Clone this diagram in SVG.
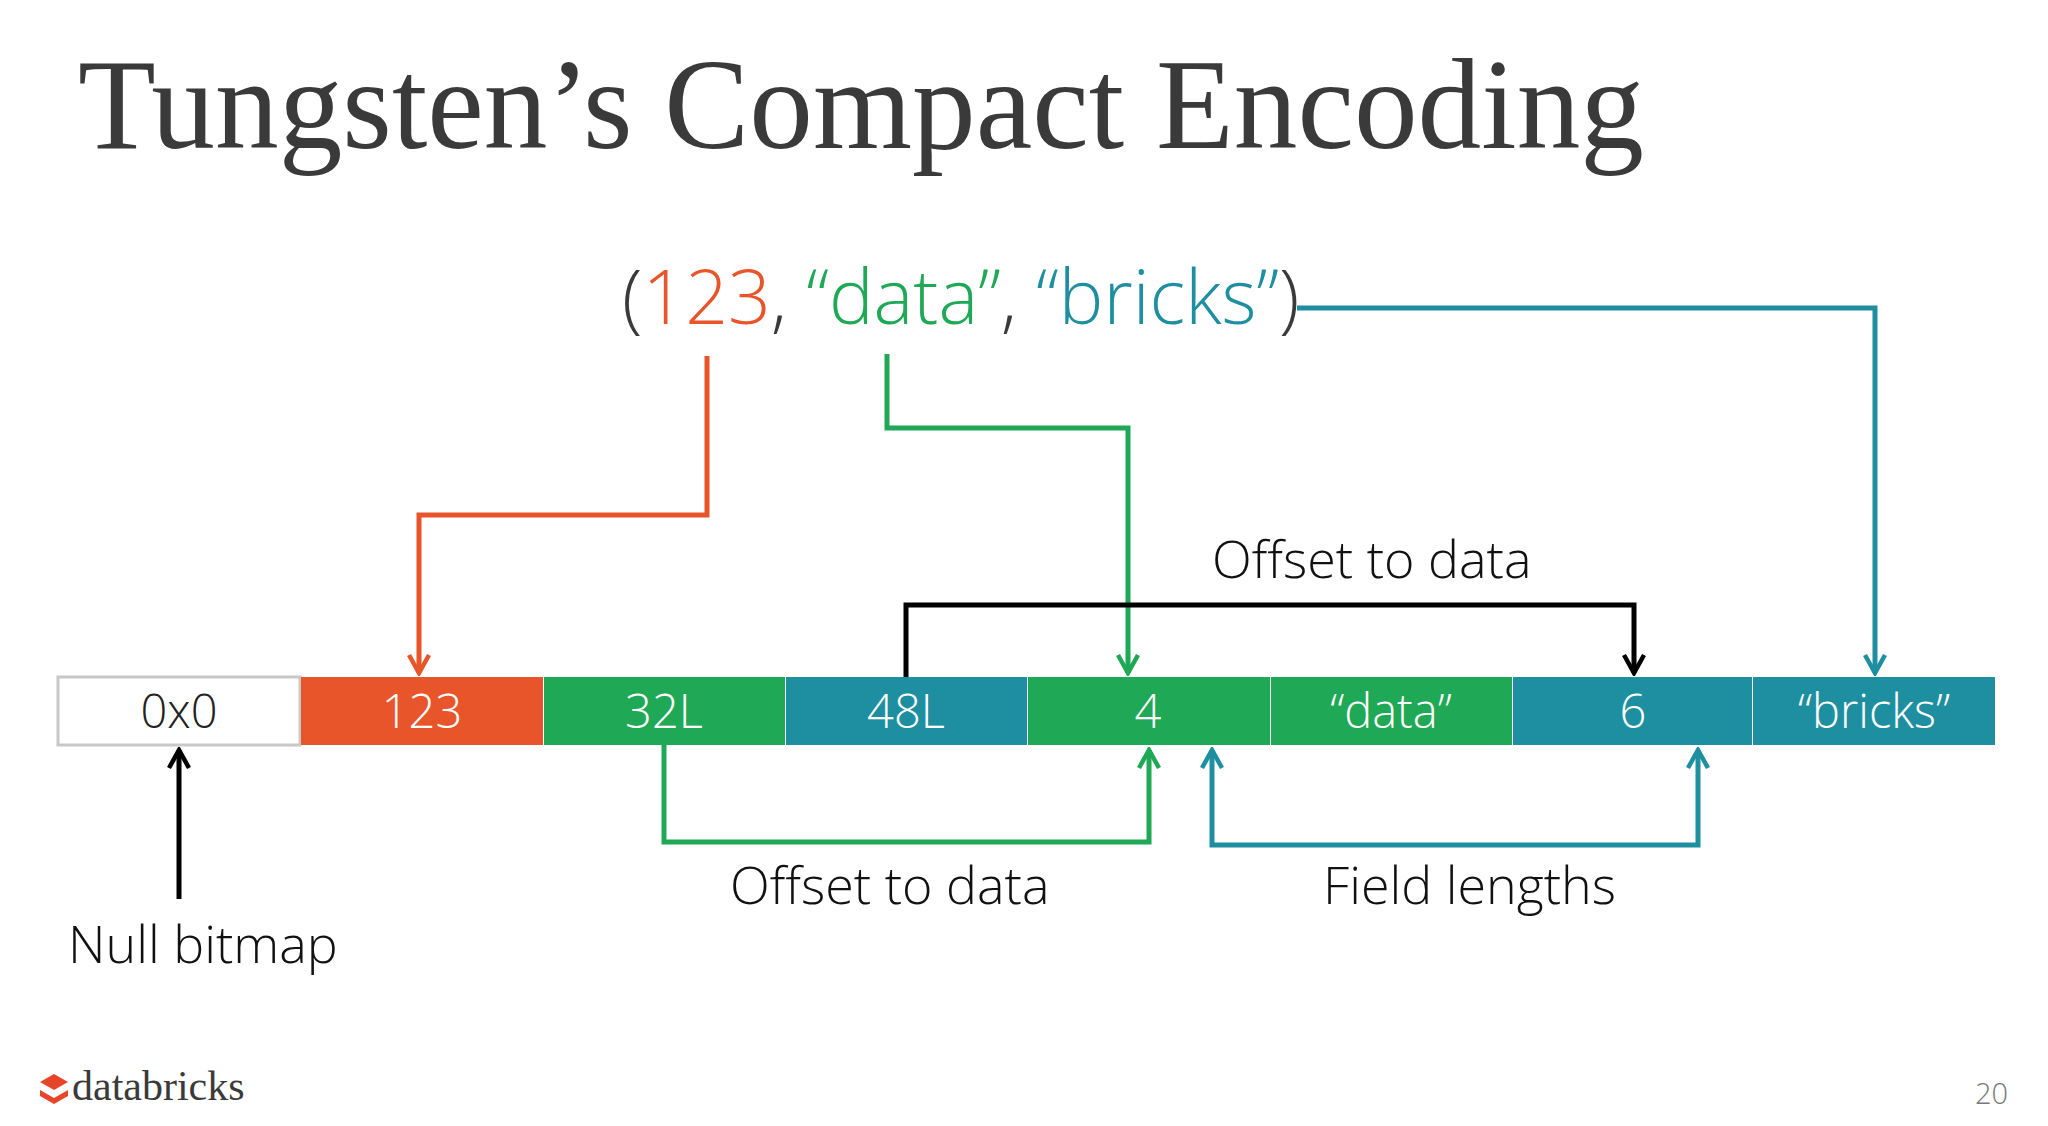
<svg xmlns="http://www.w3.org/2000/svg" width="2048" height="1126" viewBox="0 0 2048 1126">
<style>
.t{font-family:"Open Sans","Noto Sans",sans-serif;font-weight:300}
.lbl{font-family:"Open Sans","Noto Sans",sans-serif;font-weight:300;font-size:47px;fill:#fff;text-anchor:middle}
.ln{fill:none;stroke-width:5}
</style>
<defs>
<marker id="ao" viewBox="0 0 26 26" refX="23" refY="13" markerWidth="26" markerHeight="26" markerUnits="userSpaceOnUse" orient="auto-start-reverse"><path d="M5,3 L23,13 L5,23" fill="none" stroke="#e8552a" stroke-width="4.5"/></marker>
<marker id="ag" viewBox="0 0 26 26" refX="23" refY="13" markerWidth="26" markerHeight="26" markerUnits="userSpaceOnUse" orient="auto-start-reverse"><path d="M5,3 L23,13 L5,23" fill="none" stroke="#1fa855" stroke-width="4.5"/></marker>
<marker id="at" viewBox="0 0 26 26" refX="23" refY="13" markerWidth="26" markerHeight="26" markerUnits="userSpaceOnUse" orient="auto-start-reverse"><path d="M5,3 L23,13 L5,23" fill="none" stroke="#1e8fa0" stroke-width="4.5"/></marker>
<marker id="ak" viewBox="0 0 26 26" refX="23" refY="13" markerWidth="26" markerHeight="26" markerUnits="userSpaceOnUse" orient="auto-start-reverse"><path d="M5,3 L23,13 L5,23" fill="none" stroke="#000" stroke-width="4.5"/></marker>
</defs>
<rect width="2048" height="1126" fill="#fff"/>
<text x="78" y="148" font-family="'Liberation Serif',serif" font-size="130" fill="#3a3a3a" textLength="1566" lengthAdjust="spacingAndGlyphs">Tungsten’s Compact Encoding</text>
<text class="t" x="622" y="324" font-size="75"><tspan fill="#3a3a3a">(</tspan><tspan fill="#e8552a">123</tspan><tspan fill="#3a3a3a">, </tspan><tspan fill="#1fa855">“data”</tspan><tspan fill="#3a3a3a">, </tspan><tspan fill="#1e8fa0">“bricks”</tspan><tspan fill="#3a3a3a">)</tspan></text>
<g id="connectors">
<polyline class="ln" stroke="#e8552a" points="707,356 707,515 419,515 419,673" marker-end="url(#ao)"/>
<polyline class="ln" stroke="#1fa855" points="887,354 887,428 1128,428 1128,673" marker-end="url(#ag)"/>
<polyline class="ln" stroke="#1e8fa0" points="1297,308 1875,308 1875,673" marker-end="url(#at)"/>
<polyline class="ln" stroke="#000" points="906,677 906,605 1634,605 1634,673" marker-end="url(#ak)"/>
<polyline class="ln" stroke="#000" points="179,899 179,750" marker-end="url(#ak)"/>
<polyline class="ln" stroke="#1fa855" points="664,745 664,842 1149,842 1149,750" marker-end="url(#ag)"/>
<polyline class="ln" stroke="#1e8fa0" points="1212,750 1212,845 1698,845 1698,750" marker-start="url(#at)" marker-end="url(#at)"/>
</g>
<g id="n0"><rect x="58" y="677" width="242" height="68" fill="#fff" stroke="#c8c8c8" stroke-width="3"/><text class="lbl" x="179" y="728" style="fill:#222">0x0</text></g>
<g id="n1"><rect x="301" y="677" width="242" height="68" fill="#e8552a"/><text class="lbl" x="422" y="728">123</text></g>
<g id="n2"><rect x="544" y="677" width="241" height="68" fill="#1fa855"/><text class="lbl" x="664" y="728">32L</text></g>
<g id="n3"><rect x="786" y="677" width="241" height="68" fill="#1e8fa0"/><text class="lbl" x="906" y="728">48L</text></g>
<g id="n4"><rect x="1028" y="677" width="242" height="68" fill="#1fa855"/><text class="lbl" x="1148" y="728">4</text></g>
<g id="n5"><rect x="1271" y="677" width="241" height="68" fill="#1fa855"/><text class="lbl" x="1391" y="728">“data”</text></g>
<g id="n6"><rect x="1513" y="677" width="239" height="68" fill="#1e8fa0"/><text class="lbl" x="1633" y="728">6</text></g>
<g id="n7"><rect x="1753" y="677" width="242" height="68" fill="#1e8fa0"/><text class="lbl" x="1874" y="728">“bricks”</text></g>
<text class="t" x="1212" y="578" font-size="52" fill="#111">Offset to data</text>
<text class="t" x="730" y="904" font-size="52" fill="#111">Offset to data</text>
<text class="t" x="1323" y="904" font-size="52" fill="#111">Field lengths</text>
<text class="t" x="68" y="963" font-size="52" fill="#111">Null bitmap</text>
<g id="logo">
<path d="M40,1082 l14,-8 l14,8 l-14,8z M40,1090 l14,8 l14,-8 v6 l-14,8 l-14,-8z" fill="#e8442a"/>
<text x="72" y="1100" font-family="'Liberation Serif',serif" font-size="42" fill="#3a3a3a">databricks</text>
</g>
<text class="t" x="1975" y="1104" font-size="29" fill="#777">20</text>
</svg>
